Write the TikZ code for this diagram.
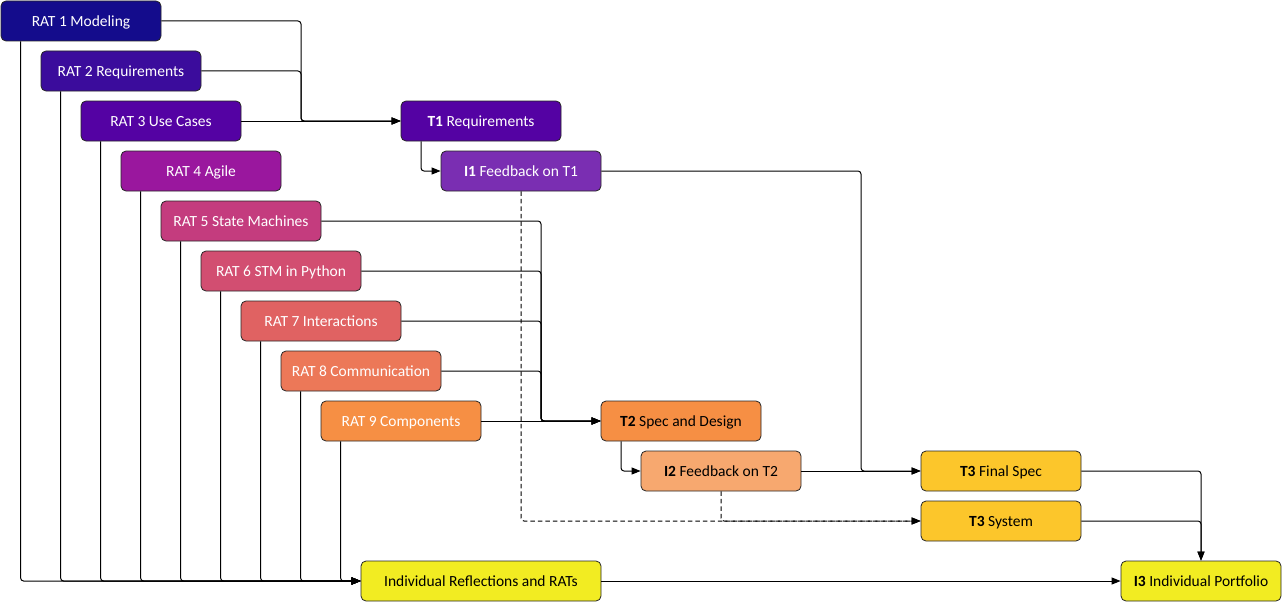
\documentclass[tikz,border=0pt]{standalone}
\usepackage{fontspec}
\setmainfont{Carlito}
\usetikzlibrary{arrows.meta}
\definecolor{cA}{HTML}{140C8C}
\definecolor{cB}{HTML}{3B0C9C}
\definecolor{cC}{HTML}{5402A3}
\definecolor{cD}{HTML}{9A179E}
\definecolor{cE}{HTML}{C43C7E}
\definecolor{cF}{HTML}{D24E71}
\definecolor{cG}{HTML}{E06262}
\definecolor{cH}{HTML}{EC7858}
\definecolor{cI}{HTML}{F68F44}
\definecolor{cJ}{HTML}{7A2EB2}
\definecolor{cK}{HTML}{F7A86F}
\definecolor{cL}{HTML}{FCC62B}
\definecolor{cM}{HTML}{F2EC22}
\tikzset{
  box/.style={draw=black!85, line width=0.8pt, rounded corners=5pt, minimum width=160pt,
    minimum height=40pt, inner sep=0pt, text height=11.2pt, text depth=0pt,
    font=\fontsize{15.5}{18}\selectfont},
  wbox/.style={box, text=white},
  conn/.style={draw=black, line width=1pt, rounded corners=3pt},
  arr/.style={conn, -{Triangle[length=9pt,width=7pt]}},
  darr/.style={arr, dash pattern=on 4.5pt off 3pt},
}
\begin{document}
\begin{tikzpicture}[x=1pt,y=-1pt]
\useasboundingbox (0,0) rectangle (1282,602);
\node[wbox, fill=cA] (r1) at (81,21) {RAT 1 Modeling};
\node[wbox, fill=cB] (r2) at (121,71) {RAT 2 Requirements};
\node[wbox, fill=cC] (r3) at (161,121) {RAT 3 Use Cases};
\node[wbox, fill=cD] (r4) at (201,171) {RAT 4 Agile};
\node[wbox, fill=cE] (r5) at (241,221) {RAT 5 State Machines};
\node[wbox, fill=cF] (r6) at (281,271) {RAT 6 STM in Python};
\node[wbox, fill=cG] (r7) at (321,321) {RAT 7 Interactions};
\node[wbox, fill=cH] (r8) at (361,371) {RAT 8 Communication};
\node[wbox, fill=cI] (r9) at (401,421) {RAT 9 Components};
\node[wbox, fill=cC] (t1) at (481,121) {\textbf{T1} Requirements};
\node[wbox, fill=cJ] (i1) at (521,171) {\textbf{I1} Feedback on T1};
\node[box, fill=cI] (t2) at (681,421) {\textbf{T2} Spec and Design};
\node[box, fill=cK] (i2) at (721,471) {\textbf{I2} Feedback on T2};
\node[box, fill=cL] (t3f) at (1001,471) {\textbf{T3} Final Spec};
\node[box, fill=cL] (t3s) at (1001,521) {\textbf{T3} System};
\node[box, fill=cM, minimum width=240pt] (ir) at (481,581) {Individual Reflections and RATs};
\node[box, fill=cM] (i3) at (1201,581) {\textbf{I3} Individual Portfolio};
\coordinate (bA) at (301,121);
\coordinate (bB) at (541,421);
\coordinate (bC) at (861,471);
% to T1
\draw[arr] (r1.east) -| (bA) -- (t1.west);
\draw[arr] (r2.east) -| (bA) -- (t1.west);
\draw[arr] (r3.east) -- (t1.west);
\draw[arr] ([xshift=-60pt]t1.south) |- (i1.west);
% to T2
\foreach \r in {r5,r6,r7,r8} \draw[arr] (\r.east) -| (bB) -- (t2.west);
\draw[arr] (r9.east) -- (t2.west);
\draw[arr] ([xshift=-60pt]t2.south) |- (i2.west);
% to T3
\draw[arr] (i1.east) -| (bC) -- (t3f.west);
\draw[arr] (i2.east) -- (t3f.west);
\draw[darr] (i1.south) |- (t3s.west);
\draw[darr] (i2.south) |- (t3s.west);
% RAT lines to reflections
\foreach \r in {r1,r2,r3,r4,r5,r6,r7,r8,r9} \draw[arr] ([xshift=20pt]\r.south west) |- (ir.west);
% to I3
\draw[arr] (ir.east) -- (i3.west);
\draw[arr] (t3f.east) -| (i3.north);
\draw[arr] (t3s.east) -| (i3.north);
\end{tikzpicture}
\end{document}
